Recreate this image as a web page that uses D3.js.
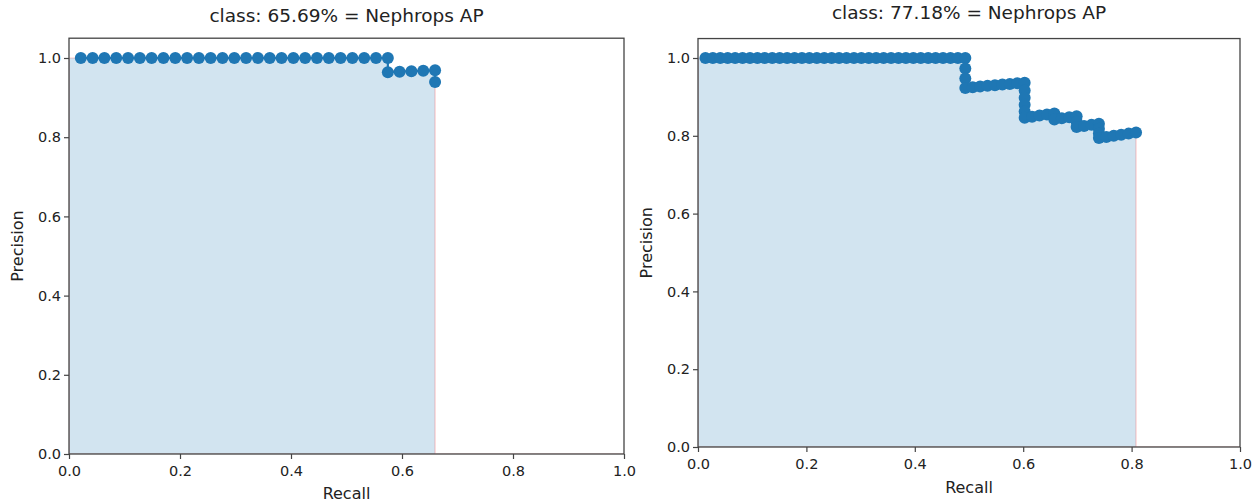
<!DOCTYPE html>
<html>
<head>
<meta charset="utf-8">
<script src="https://cdn.jsdelivr.net/npm/d3@7"></script>
<style>
  body { margin: 0; background: #fff; }
  svg { display: block; }
  text { font-family: "DejaVu Sans", sans-serif; fill: #222; }
</style>
</head>
<body>
<script>
// chart data
const titles = ["class: 65.69% = Nephrops AP", "class: 77.18% = Nephrops AP"]
const xLabel = "Recall"
const yLabel = "Precision"
const xTicks = [0, 0.2, 0.4, 0.6, 0.8, 1.0]
const yTicks = [0, 0.2, 0.4, 0.6, 0.8, 1.0]

const leftRecall = [0.0213, 0.0426, 0.0638, 0.0851, 0.1064, 0.1277, 0.1489, 0.1702, 0.1915, 0.2128,
  0.2340, 0.2553, 0.2766, 0.2979, 0.3191, 0.3404, 0.3617, 0.3830, 0.4043, 0.4255,
  0.4468, 0.4681, 0.4894, 0.5106, 0.5319, 0.5532, 0.5745, 0.5745, 0.5957, 0.6170,
  0.6383, 0.6596, 0.6596]
const leftPrecision = [1, 1, 1, 1, 1, 1, 1, 1, 1, 1,
  1, 1, 1, 1, 1, 1, 1, 1, 1, 1,
  1, 1, 1, 1, 1, 1, 1, 0.9643, 0.9655, 0.9667,
  0.9677, 0.9688, 0.9394]

const rightRecall = [0.0137, 0.0274, 0.0411, 0.0548, 0.0685, 0.0822, 0.0959, 0.1096, 0.1233, 0.1370,
  0.1507, 0.1644, 0.1781, 0.1918, 0.2055, 0.2192, 0.2329, 0.2466, 0.2603, 0.2740,
  0.2877, 0.3014, 0.3151, 0.3288, 0.3425, 0.3562, 0.3699, 0.3836, 0.3973, 0.4110,
  0.4247, 0.4384, 0.4521, 0.4658, 0.4795, 0.4932, 0.4932, 0.4932, 0.4932,
  0.5068, 0.5205, 0.5342, 0.5479, 0.5616, 0.5753, 0.5890, 0.6027,
  0.6027, 0.6027, 0.6027, 0.6027, 0.6027,
  0.6164, 0.6301, 0.6438, 0.6575, 0.6575,
  0.6712, 0.6849, 0.6986, 0.6986, 0.6986,
  0.7123, 0.7260, 0.7397, 0.7397, 0.7397, 0.7397,
  0.7534, 0.7671, 0.7808, 0.7945, 0.8082]
const rightPrecision = [1, 1, 1, 1, 1, 1, 1, 1, 1, 1,
  1, 1, 1, 1, 1, 1, 1, 1, 1, 1,
  1, 1, 1, 1, 1, 1, 1, 1, 1, 1,
  1, 1, 1, 1, 1, 1, 0.9730, 0.9474, 0.9231,
  0.9250, 0.9268, 0.9286, 0.9302, 0.9318, 0.9333, 0.9348, 0.9362,
  0.9167, 0.8980, 0.8800, 0.8627, 0.8462,
  0.8491, 0.8519, 0.8545, 0.8571, 0.8421,
  0.8448, 0.8475, 0.8500, 0.8361, 0.8226,
  0.8254, 0.8281, 0.8308, 0.8182, 0.8060, 0.7941,
  0.7971, 0.8000, 0.8028, 0.8056, 0.8082]

const w = 1260
const h = 504
const blue = "#1f77b4"

const svg = d3.select("body")
  .append("svg")
  .attr("width", w)
  .attr("height", h)

const panels = [
  { title: titles[0], rec: leftRecall, prec: leftPrecision,
    x0: 69, x1: 624, y0: 454, y1: 58, titleY: 22, xlabY: 499, ylabX: 23 },
  { title: titles[1], rec: rightRecall, prec: rightPrecision,
    x0: 698, x1: 1240, y0: 447, y1: 58, titleY: 19, xlabY: 493, ylabX: 652 }
]

panels.forEach((p, k) => drawPanel(p, k))

function drawPanel(p, k) {
  const xScale = d3.scaleLinear().domain([0, 1]).range([p.x0, p.x1])
  const yScale = d3.scaleLinear().domain([0, 1]).range([p.y0, p.y1])
  const top = yScale(1.05)

  const g = svg.append("g")

  g.append("clipPath").attr("id", "clip" + k)
    .append("rect")
    .attr("x", p.x0).attr("y", top)
    .attr("width", p.x1 - p.x0).attr("height", p.y0 - top)

  // interpolated precision envelope, like the voc ap routine
  const mrec = [0].concat(p.rec, [1])
  const mpre = [0].concat(p.prec, [0])
  for (let i = mpre.length - 2; i >= 0; i--) {
    mpre[i] = Math.max(mpre[i], mpre[i + 1])
  }
  const ax = mrec.slice(0, -1).concat([mrec[mrec.length - 2], mrec[mrec.length - 1]])
  const ay = mpre.slice(0, -1).concat([0, mpre[mpre.length - 1]])
  const areaPts = ax.map((x, i) => [x, ay[i]])

  const area = d3.area()
    .x(d => xScale(d[0]))
    .y0(yScale(0))
    .y1(d => yScale(d[1]))

  const plot = g.append("g").attr("clip-path", "url(#clip" + k + ")")

  plot.append("path")
    .datum(areaPts)
    .attr("d", area)
    .attr("fill", "rgb(210,228,240)")
    .attr("stroke", "rgba(255,0,0,0.2)")
    .attr("stroke-width", 1.2)

  const pts = p.rec.map((r, i) => [r, p.prec[i]])
  plot.append("path")
    .datum(pts)
    .attr("d", d3.line().x(d => xScale(d[0])).y(d => yScale(d[1])))
    .attr("fill", "none")
    .attr("stroke", blue)
    .attr("stroke-width", 2.2)

  plot.selectAll("circle")
    .data(pts)
    .enter()
    .append("circle")
    .attr("cx", d => xScale(d[0]))
    .attr("cy", d => yScale(d[1]))
    .attr("r", 6)
    .attr("fill", blue)

//axes
  const xAxis = d3.axisBottom(xScale).tickValues(xTicks).tickFormat(d3.format(".1f")).tickSize(5).tickSizeOuter(0)
  const yAxis = d3.axisLeft(yScale).tickValues(yTicks).tickFormat(d3.format(".1f")).tickSize(5).tickSizeOuter(0)

  const gx = g.append("g")
    .attr("transform", "translate(0," + p.y0 + ")")
    .call(xAxis)
  const gy = g.append("g")
    .attr("transform", "translate(" + p.x0 + ",0)")
    .call(yAxis)

  ;[gx, gy].forEach(a => {
    a.select(".domain").remove()
    a.selectAll("line").attr("stroke", "#444").attr("stroke-width", 1.2)
    a.selectAll("text").attr("font-size", 14.5).attr("font-family", "DejaVu Sans").style("fill", "#222")
  })
  gx.selectAll("text").attr("dy", "0.95em")

  g.append("rect")
    .attr("x", p.x0).attr("y", top)
    .attr("width", p.x1 - p.x0).attr("height", p.y0 - top)
    .attr("fill", "none")
    .attr("stroke", "#444")
    .attr("stroke-width", 1.3)

  g.append("text")
    .attr("x", (p.x0 + p.x1) / 2)
    .attr("y", p.titleY)
    .attr("text-anchor", "middle")
    .attr("font-size", 18.5)
    .text(p.title)

  g.append("text")
    .attr("x", (p.x0 + p.x1) / 2)
    .attr("y", p.xlabY)
    .attr("text-anchor", "middle")
    .attr("font-size", 16)
    .text(xLabel)

  g.append("text")
    .attr("transform", "translate(" + p.ylabX + "," + ((p.y0 + top) / 2) + ") rotate(-90)")
    .attr("text-anchor", "middle")
    .attr("font-size", 16)
    .text(yLabel)
}
</script>
</body>
</html>
